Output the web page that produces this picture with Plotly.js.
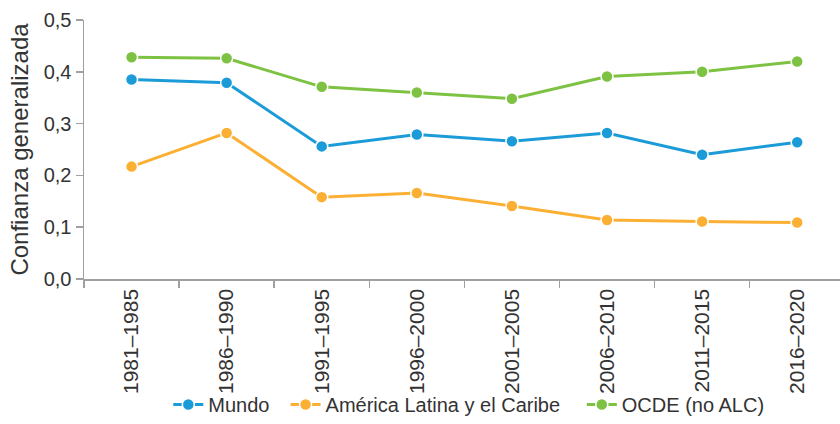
<!DOCTYPE html>
<html>
<head>
<meta charset="utf-8">
<script src="https://cdn.plot.ly/plotly-3.0.1.min.js"></script>
<style>html,body{margin:0;padding:0;background:#fff;}#chart{width:840px;height:424px;}</style>
</head>
<body>
<div id="chart"></div>
<script>
const periods = ["1981–1985","1986–1990","1991–1995","1996–2000","2001–2005","2006–2010","2011–2015","2016–2020"];
const mundo = [0.385,0.379,0.256,0.279,0.266,0.282,0.240,0.264];
const alc = [0.217,0.282,0.158,0.166,0.141,0.114,0.111,0.109];
const ocde = [0.428,0.426,0.371,0.360,0.348,0.391,0.400,0.420];
const names = ["Mundo","América Latina y el Caribe","OCDE (no ALC)"];
const colors = ["#1b9bd7","#fbb034","#7dc242"];
const series = [mundo, alc, ocde];
const pads = ["\u00a0\u00a0", "\u00a0\u00a0\u00a0", ""];

const traces = series.map((s,i)=>({
  type:'scatter', mode:'lines+markers', x:periods, y:s,
  name: names[i] + pads[i],
  line:{color:colors[i], width:3},
  marker:{color:colors[i], size:12, line:{color:'#ffffff', width:1.5}}
}));

const narrow = '"Liberation Sans Narrow", "Arial Narrow", "Liberation Sans", Arial, sans-serif';
const reg = '"Liberation Sans", Arial, sans-serif';
const layout = {
  width:840, height:424,
  margin:{l:84, r:0, t:20, b:145},
  paper_bgcolor:'#fff', plot_bgcolor:'#fff',
  separators:',.',
  showlegend:true,
  font:{family:reg, color:'#333'},
  xaxis:{
    type:'category', range:[-0.5,7.45], tickson:'boundaries', automargin:false,
    ticks:'outside', ticklen:7, tickcolor:'#a0a0a0', tickwidth:1.5,
    showline:true, linecolor:'#a0a0a0', linewidth:1.5,
    showgrid:false, zeroline:false,
    tickangle:-90, tickfont:{family:narrow, size:21, color:'#333'}
  },
  yaxis:{
    range:[0,0.5], dtick:0.1, tick0:0, tickformat:'.1f', automargin:false,
    ticks:'outside', ticklen:7, tickcolor:'#a0a0a0', tickwidth:1.5,
    showline:true, linecolor:'#a0a0a0', linewidth:1.5,
    showgrid:false, zeroline:false,
    tickfont:{family:reg, size:20, color:'#333'},
    title:{text:'Confianza generalizada', font:{family:narrow, size:24, color:'#333'}, standoff:8}
  },
  legend:{orientation:'h', x:0.509, xanchor:'center', y:-0.56, yanchor:'bottom',
    font:{family:reg, size:20, color:'#333'}, itemwidth:30, bgcolor:'rgba(0,0,0,0)'}
};
Plotly.newPlot('chart', traces, layout, {displayModeBar:false, staticPlot:true});
</script>
</body>
</html>
